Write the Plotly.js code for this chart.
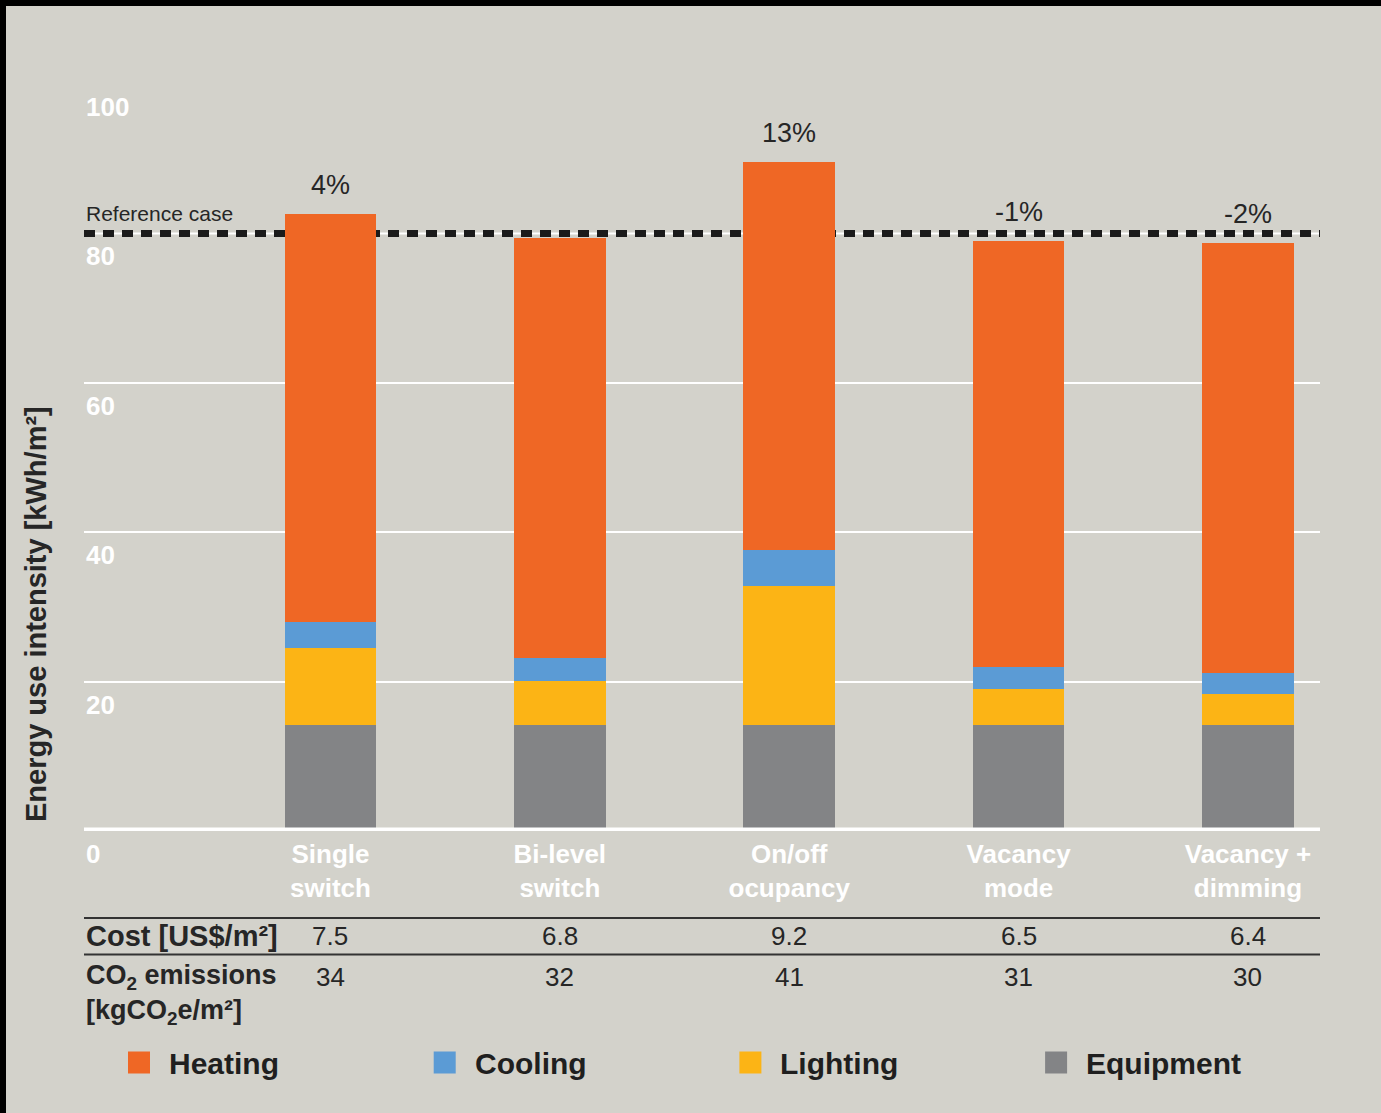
<!DOCTYPE html>
<html>
<head>
<meta charset="utf-8">
<script src="https://cdn.plot.ly/plotly-3.0.1.min.js"></script>
<style>
  html, body { margin: 0; padding: 0; background: #000; width: 1381px; height: 1113px; overflow: hidden; }
  #chart { position: absolute; left: 6px; top: 6px; width: 1375px; height: 1107px; }
</style>
</head>
<body>
<div id="chart"></div>
<script>
// Lighting control strategies: energy use intensity broken down by end use
const categories = ['Single<br>switch', 'Bi-level<br>switch', 'On/off<br>ocupancy', 'Vacancy<br>mode', 'Vacancy +<br>dimming'];
const equipment = [14.2, 14.2, 14.2, 14.2, 14.2];
const lighting  = [10.3, 5.9, 18.6, 4.8, 4.1];
const cooling   = [3.5, 3.0, 4.8, 2.9, 2.9];
const heating   = [54.6, 56.3, 52.0, 57.1, 57.5];
const changeVsReference = ['4%', '', '13%', '-1%', '-2%'];
const costPerM2 = ['7.5', '6.8', '9.2', '6.5', '6.4'];
const co2PerM2  = ['34', '32', '41', '31', '30'];
const referenceCase = 80;
const yTicks = [0, 20, 40, 60, 80, 100];
const legendNames = ['Heating', 'Cooling', 'Lighting', 'Equipment'];

const COLORS = { Heating: '#ef6725', Cooling: '#5b9bd5', Lighting: '#fcb415', Equipment: '#838486' };
const FONT = 'Liberation Sans, Arial, sans-serif';
const INK = '#262626';

// Page geometry (the chart div sits 6px in from the top-left frame)
const W = 1375, H = 1107, OFF = 6;
const M = { l: 78, r: 61, t: 78, b: 282 };
const plotW = W - M.l - M.r, plotH = H - M.t - M.b;
const paperX = X => (X - OFF - M.l) / plotW;
const paperY = Y => (H - M.b + OFF - Y) / plotH;

const idx = categories.map((_, i) => i);
const totals = idx.map(i => equipment[i] + lighting[i] + cooling[i] + heating[i]);

function barTrace(name, values) {
  return {
    type: 'bar', name: name, x: idx, y: values,
    marker: { color: COLORS[name], line: { width: 0 } },
    showlegend: false, hoverinfo: 'skip'
  };
}

const data = [
  barTrace('Equipment', equipment),
  barTrace('Lighting', lighting),
  barTrace('Cooling', cooling),
  barTrace('Heating', heating)
];

const annotations = [];
const shapes = [];

// y tick labels sit just under their gridlines, inside the plot
yTicks.forEach(v => annotations.push({
  xref: 'paper', yref: 'y', x: 0, y: v, xanchor: 'left', yanchor: 'middle',
  xshift: 0, yshift: -23, showarrow: false, text: String(v),
  font: { family: FONT, size: 26, color: '#ffffff', weight: 'bold' }
}));

// percentage change above each bar
idx.forEach(i => {
  if (!changeVsReference[i]) return;
  annotations.push({
    xref: 'x', yref: 'y', x: i, y: totals[i], yanchor: 'middle', yshift: 29,
    showarrow: false, text: changeVsReference[i],
    font: { family: FONT, size: 27, color: INK }
  });
});

// reference case: its own white gridline, then the black dashes over it, both under the bars
shapes.push({
  type: 'line', layer: 'below', xref: 'paper', yref: 'y', x0: 0, x1: 1,
  y0: referenceCase, y1: referenceCase,
  line: { color: '#ffffff', width: 2 }
});
shapes.push({
  type: 'line', layer: 'below', xref: 'paper', yref: 'y', x0: 0, x1: 1,
  y0: referenceCase, y1: referenceCase,
  line: { color: '#1b1b1b', width: 7, dash: '11px,8px' }
});
annotations.push({
  xref: 'paper', yref: 'y', x: 0, y: referenceCase, xanchor: 'left', yanchor: 'middle',
  xshift: 0, yshift: 20, showarrow: false, text: 'Reference case',
  font: { family: FONT, size: 21, color: INK }
});

// heavy white baseline
shapes.push({
  type: 'line', layer: 'above', xref: 'paper', yref: 'y', x0: 0, x1: 1, y0: 0, y1: 0,
  line: { color: '#ffffff', width: 7 }
});

// y axis title
annotations.push({
  xref: 'paper', yref: 'paper', x: paperX(36), y: paperY(614), xanchor: 'center', yanchor: 'middle',
  textangle: -90, showarrow: false, text: 'Energy use intensity [kWh/m²]',
  font: { family: FONT, size: 29, color: INK, weight: 'bold' }
});

// cost / emissions table under the axis
[918, 954.5].forEach(Y => shapes.push({
  type: 'line', xref: 'paper', yref: 'paper', x0: 0, x1: 1, y0: paperY(Y), y1: paperY(Y),
  line: { color: '#333333', width: 2 }
}));
annotations.push({
  xref: 'paper', yref: 'paper', x: 0, y: paperY(935.5), xanchor: 'left', yanchor: 'middle',
  showarrow: false, text: 'Cost [US$/m²]',
  font: { family: FONT, size: 29, color: INK, weight: 'bold' }
});
annotations.push({
  xref: 'paper', yref: 'paper', x: 0, y: paperY(994.5), xanchor: 'left', yanchor: 'middle', align: 'left',
  showarrow: false, text: 'CO<sub>2</sub> emissions<br>[kgCO<sub>2</sub>e/m²]',
  font: { family: FONT, size: 27, color: INK, weight: 'bold' }
});
idx.forEach(i => {
  annotations.push({
    xref: 'x', yref: 'paper', x: i, y: paperY(935.5), yanchor: 'middle', showarrow: false,
    text: costPerM2[i], font: { family: FONT, size: 26, color: INK }
  });
  annotations.push({
    xref: 'x', yref: 'paper', x: i, y: paperY(977), yanchor: 'middle', showarrow: false,
    text: co2PerM2[i], font: { family: FONT, size: 26, color: INK }
  });
});

// legend row
legendNames.forEach((name, k) => {
  const left = 128 + k * 305.7;
  shapes.push({
    type: 'rect', xref: 'paper', yref: 'paper',
    x0: paperX(left), x1: paperX(left + 22), y0: paperY(1073.5), y1: paperY(1051.5),
    fillcolor: COLORS[name], line: { width: 0 }
  });
  annotations.push({
    xref: 'paper', yref: 'paper', x: paperX(left + 39), y: paperY(1063), xanchor: 'left', yanchor: 'middle',
    showarrow: false, text: name, font: { family: FONT, size: 30, color: '#1f1f1f', weight: 'bold' }
  });
});

const layout = {
  width: W, height: H,
  margin: M,
  paper_bgcolor: '#d3d2cb', plot_bgcolor: '#d3d2cb',
  barmode: 'stack', bargap: 0.6,
  showlegend: false,
  font: { family: FONT, color: INK },
  xaxis: {
    type: 'linear', range: [-1.0745, 4.314],
    tickmode: 'array', tickvals: idx, ticktext: categories,
    showgrid: false, zeroline: false, showline: false, ticks: '',
    ticklabelstandoff: 5,
    tickfont: { family: FONT, size: 26, color: '#ffffff', weight: 'bold' },
    fixedrange: true
  },
  yaxis: {
    range: [0, 100],
    // the reference-case value gets its own gridline drawn with the dashed line
    tickvals: yTicks.filter(v => v !== referenceCase), showticklabels: false,
    showgrid: true, gridcolor: '#ffffff', gridwidth: 2,
    zeroline: false, showline: false, ticks: '', fixedrange: true
  },
  shapes: shapes,
  annotations: annotations
};

Plotly.newPlot('chart', data, layout, { staticPlot: true, displayModeBar: false });
</script>
</body>
</html>
